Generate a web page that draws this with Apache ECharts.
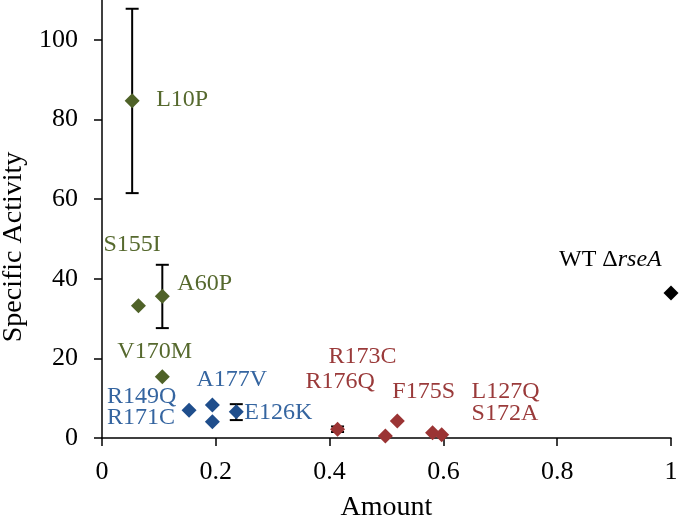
<!DOCTYPE html>
<html><head><meta charset="utf-8">
<script src="https://cdn.jsdelivr.net/npm/echarts@6/dist/echarts.min.js"></script>
<style>html,body{margin:0;padding:0;background:#fff}#c{width:680px;height:524px}</style>
</head><body><div id="c"></div>
<script>
// ---- data ----
const greenX = [0.053, 0.064, 0.106, 0.106];
const greenY = [84.7, 33.2, 35.6, 15.4];
const blueX = [0.153, 0.194, 0.194, 0.236];
const blueY = [7.0, 8.3, 4.1, 6.6];
const redX = [0.414, 0.498, 0.519, 0.581, 0.597];
const redY = [2.2, 0.5, 4.3, 1.3, 0.8];
const wtX = [1.0];
const wtY = [36.4];
const errX = [0.053, 0.106, 0.236, 0.414];
const errLow = [61.5, 27.6, 4.5, 1.5];
const errHigh = [107.8, 43.5, 8.5, 2.9];
const yTicks = [0, 20, 40, 60, 80, 100];
const xTicks = [0, 0.2, 0.4, 0.6, 0.8, 1];
// label texts, with the group/index of the point they describe
const labelTexts = ['L10P','S155I','A60P','V170M','R149Q','R171C','A177V','E126K','R173C','R176Q','F175S','L127Q','S172A','WT ΔrseA'];
const labelRefs = [['g',0],['g',1],['g',2],['g',3],['b',0],['b',0],['b',1],['b',3],['r',0],['r',0],['r',2],['r',3],['r',3],['w',0]];

// ---- styles ----
const FONT = 'Liberation Serif';
const C = {
  g: {mark: '#4F6228', text: '#56692e'},
  b: {mark: '#1F4E8C', text: '#3565a0'},
  r: {mark: '#9B3434', text: '#9a3a3a'},
  w: {mark: '#000000', text: '#000000'}
};
const groups = {g: [greenX, greenY], b: [blueX, blueY], r: [redX, redY], w: [wtX, wtY]};
// pixel offsets (text left edge, text centre) relative to the point
const labelOffsets = [[24,-1],[-35,-61],[15,-13],[-45,-25],[-82,-13],[-82,8],[-16,-25],[8,1],[-9,-73],[-32,-48],[-5,-29],[39,-41],[39,-19],[-112,-33]];

const zip = (xs, ys) => xs.map((x, i) => [x, ys[i]]);

function pointSeries(key) {
  const [xs, ys] = groups[key];
  return {
    type: 'scatter', data: zip(xs, ys), symbol: 'diamond', symbolSize: 15,
    itemStyle: {color: C[key].mark, opacity: 1}, clip: false, z: 3, silent: true
  };
}

const labelSeries = labelTexts.map((t, i) => {
  const [key, idx] = labelRefs[i];
  const [xs, ys] = groups[key];
  const isWT = key === 'w';
  return {
    type: 'scatter', symbolSize: 0, clip: false, silent: true, z: 5,
    itemStyle: {color: 'rgba(0,0,0,0)', opacity: 1},
    data: [[xs[idx], ys[idx]]],
    label: {
      show: true, position: 'inside', align: 'left', verticalAlign: 'middle',
      offset: labelOffsets[i],
      formatter: isWT ? '{n|WT Δ}{i|rseA}' : t,
      color: C[key].text, fontFamily: FONT, fontSize: 24, opacity: 1,
      textBorderWidth: 0, textShadowBlur: 0,
      rich: isWT ? {
        n: {fontFamily: FONT, fontSize: 24, color: '#000', textBorderWidth: 0},
        i: {fontFamily: FONT, fontSize: 24, color: '#000', fontStyle: 'italic', textBorderWidth: 0}
      } : undefined
    }
  };
});

const errSeries = {
  type: 'custom', z: 2, silent: true, clip: false,
  data: errX.map((x, i) => [x, errLow[i], errHigh[i]]),
  renderItem: function (params, api) {
    const lo = api.coord([api.value(0), api.value(1)]);
    const hi = api.coord([api.value(0), api.value(2)]);
    const w = 6.5;
    const st = {stroke: '#000', lineWidth: 2};
    return {type: 'group', children: [
      {type: 'line', shape: {x1: lo[0], y1: lo[1], x2: hi[0], y2: hi[1]}, style: st},
      {type: 'line', shape: {x1: lo[0]-w, y1: lo[1], x2: lo[0]+w, y2: lo[1]}, style: st},
      {type: 'line', shape: {x1: hi[0]-w, y1: hi[1], x2: hi[0]+w, y2: hi[1]}, style: st}
    ]};
  }
};

const chart = echarts.init(document.getElementById('c'), null, {renderer: 'canvas'});
chart.setOption({
  animation: false,
  backgroundColor: '#fff',
  grid: {left: 102, right: 9, top: 0, bottom: 86, containLabel: false, outerBoundsMode: 'none'},
  xAxis: {
    type: 'value', min: 0, max: 1, interval: 0.2,
    name: 'Amount', nameLocation: 'middle', nameGap: 56,
    nameTextStyle: {fontFamily: FONT, fontSize: 28, color: '#000'},
    axisLine: {show: true, lineStyle: {color: '#000', width: 1.5}},
    axisTick: {show: true, length: 8, lineStyle: {color: '#000', width: 1.5}, customValues: xTicks},
    axisLabel: {fontFamily: FONT, fontSize: 26, color: '#000', margin: 21, customValues: xTicks,
      formatter: v => String(v)},
    splitLine: {show: false}
  },
  yAxis: {
    type: 'value', min: 0, max: 110, interval: 20,
    name: 'Specific Activity', nameLocation: 'middle', nameGap: 67,
    nameTextStyle: {fontFamily: FONT, fontSize: 28, color: '#000', padding: [0, 56, 0, 0]},
    axisLine: {show: true, lineStyle: {color: '#000', width: 1.5}},
    axisTick: {show: true, length: 8, lineStyle: {color: '#000', width: 1.5}, customValues: yTicks},
    axisLabel: {fontFamily: FONT, fontSize: 26, color: '#000', margin: 24, customValues: yTicks},
    splitLine: {show: false}
  },
  series: [errSeries, pointSeries('g'), pointSeries('b'), pointSeries('r'), pointSeries('w')].concat(labelSeries)
});
</script></body></html>
